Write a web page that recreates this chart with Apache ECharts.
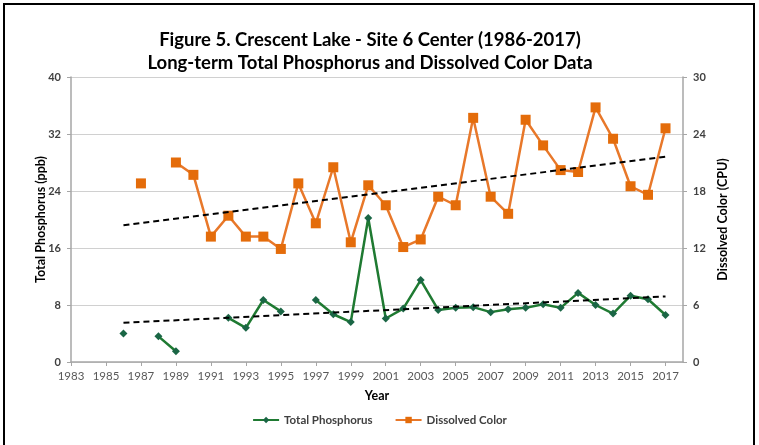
<!DOCTYPE html>
<html>
<head>
<meta charset="utf-8">
<script src="https://cdn.jsdelivr.net/npm/echarts@6/dist/echarts.min.js"></script>
<style>
html,body{margin:0;padding:0;background:#fff;}
#chart{width:759px;height:445px;}
</style>
</head>
<body>
<div id="chart"></div>
<script>
var years = [1986,1987,1988,1989,1990,1991,1992,1993,1994,1995,1996,1997,1998,1999,2000,2001,2002,2003,2004,2005,2006,2007,2008,2009,2010,2011,2012,2013,2014,2015,2016,2017];
var totalPhosphorus = [4.0,null,3.6,1.5,null,null,6.2,4.8,8.7,7.1,null,8.7,6.7,5.6,20.2,6.1,7.5,11.5,7.3,7.6,7.7,7.0,7.4,7.6,8.1,7.6,9.7,8.0,6.8,9.3,8.8,6.6];
var dissolvedColor = [null,18.8,null,21.0,19.7,13.2,15.4,13.2,13.2,11.9,18.8,14.6,20.5,12.6,18.6,16.5,12.1,12.9,17.4,16.5,25.7,17.4,15.6,25.5,22.8,20.2,20.0,26.8,23.5,18.5,17.6,24.6];
var tpTrendYears = [1986,2017];
var tpTrendValues = [5.5,9.2];
var colorTrendYears = [1986,2017];
var colorTrendValues = [14.4,21.6];

function pairs(xs, vs){ return xs.map(function(x,i){ return [x, vs[i]===null ? '-' : vs[i]]; }); }

var chart = echarts.init(document.getElementById('chart'));
var font = 'Lato, "Open Sans", sans-serif';
chart.setOption({
  animation:false,
  textStyle:{fontFamily:font},
  title:{
    text:'Figure 5. Crescent Lake - Site 6 Center (1986-2017)\nLong-term Total Phosphorus and Dissolved Color Data',
    left:365, top:24, textAlign:'center',
    textStyle:{fontFamily:font,fontSize:18.5,fontWeight:'bold',color:'#000',lineHeight:23}
  },
  graphic:[{type:'rect',shape:{x:4,y:4,width:750,height:470},style:{fill:'none',stroke:'#000',lineWidth:2},silent:true}],
  legend:{
    data:['Total Phosphorus','Dissolved Color'],
    left:'center', top:409, itemGap:22, itemWidth:26, itemHeight:8,
    textStyle:{fontFamily:font,fontSize:11.5,fontWeight:'bold',color:'#404040'}
  },
  grid:{left:71,right:76,top:77,bottom:83},
  xAxis:{
    type:'value', min:1983, max:2018, interval:2,
    name:'Year', nameLocation:'middle', nameGap:27,
    nameTextStyle:{fontFamily:font,fontSize:12.5,fontWeight:'bold',color:'#000'},
    axisLine:{show:true,lineStyle:{color:'#a6a6a6',width:1.5}},
    axisTick:{show:true,length:4,lineStyle:{color:'#a6a6a6'}},
    axisLabel:{showMaxLabel:false,fontSize:11.5,color:'#595959',margin:8,formatter:function(v){return String(v);}},
    splitLine:{show:false}
  },
  yAxis:[{
    type:'value', min:0, max:40, interval:8, position:'left',
    name:'Total Phosphorus (ppb)', nameLocation:'middle', nameGap:24, nameMoveOverlap:false,
    nameTextStyle:{fontFamily:font,fontSize:12.5,fontWeight:'bold',color:'#000'},
    axisLine:{show:true,lineStyle:{color:'#a6a6a6',width:1.5}},
    axisTick:{show:true,length:4,lineStyle:{color:'#a6a6a6'}},
    axisLabel:{fontSize:11,fontWeight:'bold',color:'#404040',margin:10},
    splitLine:{show:true,lineStyle:{color:'#d0d0d0',width:1}}
  },{
    type:'value', min:0, max:30, interval:6, position:'right',
    name:'Dissolved Color (CPU)', nameLocation:'middle', nameGap:32, nameRotate:90,
    nameTextStyle:{fontFamily:font,fontSize:12.5,fontWeight:'bold',color:'#000'},
    axisLine:{show:true,lineStyle:{color:'#a6a6a6',width:1.5}},
    axisTick:{show:true,length:4,lineStyle:{color:'#a6a6a6'}},
    axisLabel:{fontSize:11,fontWeight:'bold',color:'#404040',margin:10},
    splitLine:{show:false}
  }],
  series:[{
    name:'Total Phosphorus', type:'line', yAxisIndex:0,
    data:pairs(years,totalPhosphorus), connectNulls:false,
    symbol:'diamond', symbolSize:8, showSymbol:true,
    lineStyle:{color:'#1f7a32',width:2.5},
    itemStyle:{color:'#1a6645'}, z:3
  },{
    name:'Dissolved Color', type:'line', yAxisIndex:1,
    data:pairs(years,dissolvedColor), connectNulls:false,
    symbol:'rect', symbolSize:10, showSymbol:true,
    lineStyle:{color:'#e8782a',width:2.5},
    itemStyle:{color:'#e46c0a'}, z:3
  },{
    name:'TP trend', type:'line', yAxisIndex:0,
    data:pairs(tpTrendYears,tpTrendValues), symbol:'none',
    lineStyle:{color:'#000',width:2,type:[6,4]}, z:4
  },{
    name:'Color trend', type:'line', yAxisIndex:1,
    data:pairs(colorTrendYears,colorTrendValues), symbol:'none',
    lineStyle:{color:'#000',width:2,type:[6,4]}, z:4
  }]
});
</script>
</body>
</html>
